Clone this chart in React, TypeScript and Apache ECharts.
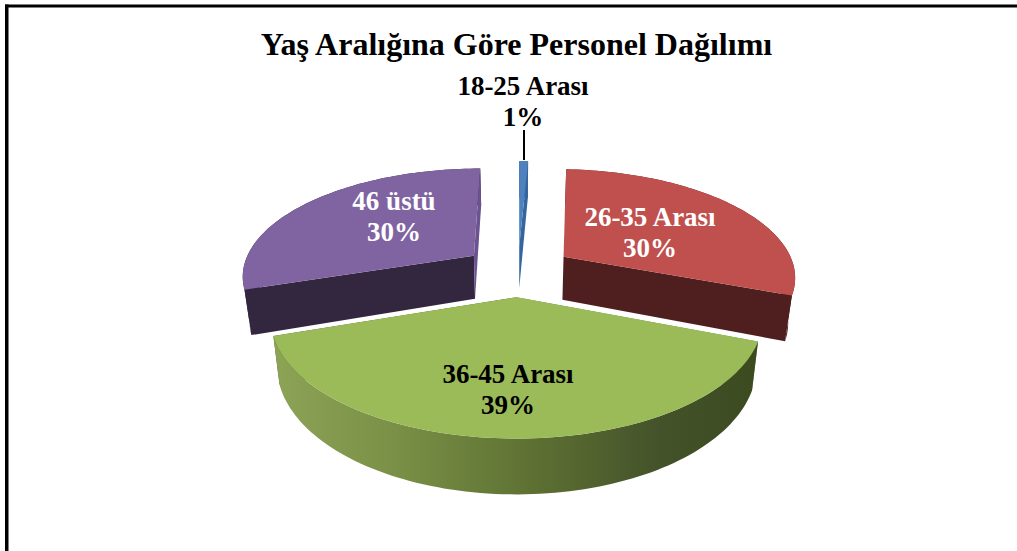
import React, { useEffect, useRef } from "react";
import * as echarts from "echarts";

const titleText = "Yaş Aralığına Göre Personel Dağılımı";
const categories = ["18-25 Arası", "26-35 Arası", "36-45 Arası", "46 üstü"];
const values = [0.75, 30.05, 39.1, 30.1];
const percentLabels = ["1%", "30%", "39%", "30%"];

const topColors = ["#4f81bd", "#c0504d", "#9bbb59", "#8064a2"];
const startWallColors = ["#33659f", "#a33f3c", "#6f8a3c", "#33263f"];
const endWallColors = ["#33659f", "#4f1e1e", "#4a5a28", "#6b5290"];
const outerWallColors = ["#2f5f97", "#4f1e1e", "#4a5a28", "#33263f"];
const labelColors = ["#000000", "#ffffff", "#000000", "#ffffff"];
const labelPositions = [[523, 101], [650, 232], [508, 389], [394, 216]];

const CX = 518, CY = 270.5, RX = 232, RY = 106.8, K = 0.171, EXPLODE = 0.24, DEPTH = 44, BOTTOM_SCALE = 0.975;

function project(u: number, v: number, bottom: boolean) {
  const s = 1 / (1 - K * v);
  let x = CX + RX * u * s;
  let y = CY + RY * v * s;
  if (bottom) {
    x = CX + (x - CX) * BOTTOM_SCALE;
    y += DEPTH * s;
  }
  return [x, y];
}

function renderItem(params: any, api: any) {
  const i = params.dataIndex;
  const total = values.reduce((a, b) => a + b, 0);
  const before = values.slice(0, i).reduce((a, b) => a + b, 0);
  const a0 = (before / total) * Math.PI * 2;
  const a1 = ((before + api.value(0)) / total) * Math.PI * 2;
  const mid = (a0 + a1) / 2;
  const ou = EXPLODE * Math.sin(mid);
  const ov = -EXPLODE * Math.cos(mid);
  const steps = Math.max(4, Math.round(((a1 - a0) / Math.PI) * 120));
  const arc: number[][] = [];
  for (let n = 0; n <= steps; n++) {
    const a = a0 + ((a1 - a0) * n) / steps;
    arc.push([ou + Math.sin(a), ov - Math.cos(a)]);
  }
  const top = arc.map((p) => project(p[0], p[1], false));
  const bot = arc.map((p) => project(p[0], p[1], true));
  const apexTop = project(ou, ov, false);
  const apexBot = project(ou, ov, true);
  const last = arc.length - 1;
  const wallFill =
    i === 2
      ? new echarts.graphic.LinearGradient(0, 0, 1, 0, [
          { offset: 0, color: "#8da356" },
          { offset: 0.25, color: "#7a9046" },
          { offset: 0.55, color: "#5c6f32" },
          { offset: 0.8, color: "#44522a" },
          { offset: 1, color: "#3c4a20" },
        ])
      : outerWallColors[i];
  const poly = (points: number[][], fill: any) => ({
    type: "polygon",
    shape: { points },
    style: { fill, stroke: "none" },
    silent: true,
  });
  const outer = poly([...top, ...bot.slice().reverse()], wallFill);
  const sides = [
    poly([apexTop, top[0], bot[0], apexBot], startWallColors[i]),
    poly([apexTop, top[last], bot[last], apexBot], endWallColors[i]),
  ];
  // A slice that faces the viewer shows its rim in front of its cut faces.
  const walls = Math.cos(mid) < 0 ? [...sides, outer] : [outer, ...sides];
  return { type: "group", children: [...walls, poly([apexTop, ...top], topColors[i])] };
}

export default function App() {
  const ref = useRef<HTMLDivElement>(null);
  useEffect(() => {
    document.body.style.margin = "0";
    document.body.style.background = "#ffffff";
    const chart = echarts.init(ref.current!, null, { renderer: "svg" });
    const font = '"Liberation Serif", "Times New Roman", serif';
    chart.setOption({
      animation: false,
      backgroundColor: "#ffffff",
      title: {
        text: titleText,
        left: 511.5,
        top: 23,
        textAlign: "center",
        textStyle: { fontFamily: font, fontSize: 32, fontWeight: "bold", color: "#000000" },
      },
      graphic: [
        { type: "rect", shape: { x: 5, y: 4.5, width: 1012, height: 3 }, style: { fill: "#000000" }, silent: true },
        { type: "rect", shape: { x: 5, y: 4.5, width: 3.5, height: 547 }, style: { fill: "#000000" }, silent: true },
        { type: "line", shape: { x1: 524, y1: 130, x2: 524, y2: 160 }, style: { stroke: "#000000", lineWidth: 2 }, silent: true, z: 5 },
        ...categories.map((name, i) => ({
          type: "text",
          x: labelPositions[i][0],
          y: labelPositions[i][1],
          z: 10,
          silent: true,
          style: {
            text: name + "\n" + percentLabels[i],
            fontFamily: font,
            fontSize: 27,
            fontWeight: "bold",
            lineHeight: 31,
            fill: labelColors[i],
            align: "center",
            verticalAlign: "middle",
          },
        })),
      ],
      series: [
        {
          type: "custom",
          coordinateSystem: "none",
          renderItem,
          silent: true,
          data: values.map((v, i) => ({ name: categories[i], value: [v] })),
        },
      ],
    });
    return () => chart.dispose();
  }, []);
  return <div ref={ref} style={{ position: "absolute", left: 0, top: 0, width: 1017, height: 551 }} />;
}
